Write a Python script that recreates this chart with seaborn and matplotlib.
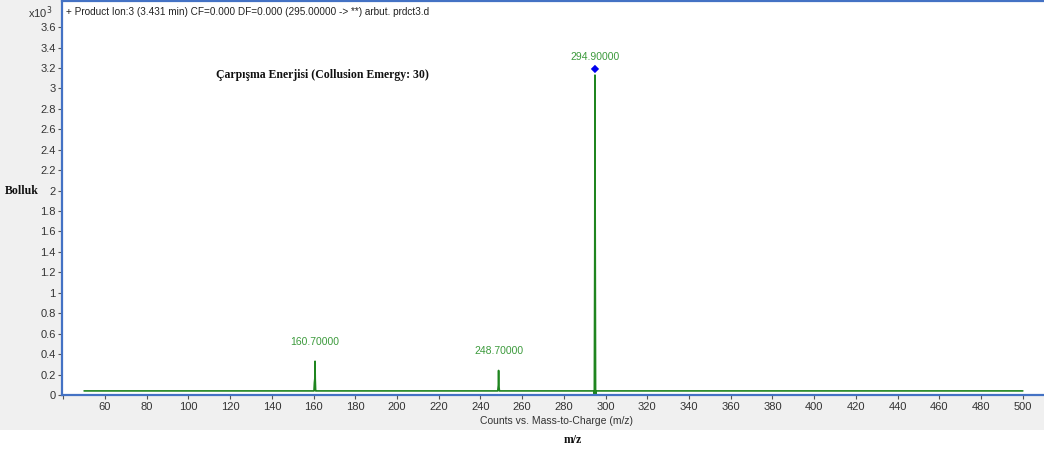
import matplotlib
matplotlib.use('Agg')
import matplotlib.pyplot as plt
from matplotlib.patches import Rectangle
import numpy as np
import pandas as pd
import seaborn as sns

# Spectrum profile (m/z, counts x10^3)
mz = [50.0, 160.2, 160.4, 160.6, 160.7, 160.8, 161.0, 161.3,
      248.3, 248.6, 248.7, 248.8, 249.1,
      294.3, 294.6, 294.8, 294.9, 295.0, 295.2, 295.5, 500.0]
counts = [0.04, 0.04, 0.12, 0.16, 0.33, 0.16, 0.04, 0.04,
          0.04, 0.10, 0.24, 0.10, 0.04,
          0.04, 0.00, 1.45, 3.13, 1.75, 0.00, 0.04, 0.04]

peak_mz = [160.7, 248.7, 294.9]
peak_top = [0.33, 0.24, 3.13]
peak_labels = ['160.70000', '248.70000', '294.90000']

x_ticks = list(range(60, 501, 20))
y_ticks = [round(0.2 * i, 1) for i in range(19)]

df = pd.DataFrame({'mz': mz, 'counts': counts})

sns.set_style('white')
plt.rcParams['font.family'] = ['Liberation Sans', 'DejaVu Sans']

fig = plt.figure(figsize=(10.44, 4.5), dpi=100, facecolor='white')
# grey panel behind the plot
fig.patches.append(Rectangle((0, 20 / 450), 1, 1, transform=fig.transFigure,
                             facecolor='#f0f0f0', edgecolor='none', zorder=-1))
ax = fig.add_axes([62 / 1044, 55 / 450, 990 / 1044, 394 / 450])
ax.set_facecolor('white')

sns.lineplot(data=df, x='mz', y='counts', ax=ax, estimator=None, sort=False,
             color='#1f851f', linewidth=1.2)
sns.scatterplot(x=[peak_mz[2]], y=[3.19], ax=ax, marker='D', color='#0000ee',
                s=18, edgecolor='none', zorder=5)

for x, y, lab in zip(peak_mz, peak_top, peak_labels):
    offset = 0.19 if y < 3 else 0.18
    ax.text(x, y + offset, lab, ha='center', va='center', fontsize=7.5,
            color='#3c9a3c')

ax.set_xlim(39.4, 514)
ax.set_ylim(0, 3.855)
ax.set_xticks([40] + x_ticks)
ax.set_xticklabels([''] + [str(t) for t in x_ticks])
ax.set_yticks(y_ticks)
ax.set_yticklabels([('%g' % t) for t in y_ticks])
ax.tick_params(axis='both', direction='out', length=3, width=0.8,
               color='#555555', labelsize=8, labelcolor='#333333', pad=1.5)
ax.tick_params(axis='x', pad=2)
ax.tick_params(axis='y', left=True)
ax.tick_params(axis='x', bottom=True)

for side in ['left', 'bottom', 'top']:
    ax.spines[side].set_color('#4472c4')
    ax.spines[side].set_linewidth(1.6)
ax.spines['right'].set_visible(False)

ax.set_xlabel('Counts vs. Mass-to-Charge (m/z)', fontsize=7.5, color='#333333',
              labelpad=3)
ax.set_ylabel('')

ax.text(0.004, 0.985, '+ Product Ion:3 (3.431 min) CF=0.000 DF=0.000 (295.00000 -> **) arbut. prdct3.d',
        transform=ax.transAxes, ha='left', va='top', fontsize=7.2, color='#222222')
fig.text(28 / 1044, 1 - 13 / 450, 'x10$^{3}$', ha='left', va='center', fontsize=8,
         color='#333333')

fig.text(322 / 1044, 1 - 75 / 450, 'Çarpışma Enerjisi (Collusion Emergy: 30)', ha='center',
         va='center', fontsize=8.5, fontweight='bold', family='Liberation Serif',
         color='#111111')
fig.text(5 / 1044, 1 - 191 / 450, 'Bolluk', ha='left', va='center', fontsize=8.5,
         fontweight='bold', family='Liberation Serif', color='#111111')
fig.text(573 / 1044, 1 - 440 / 450, 'm/z', ha='center', va='center', fontsize=8.5,
         fontweight='bold', family='Liberation Serif', color='#111111')

fig.savefig('out.png', dpi=100, facecolor='white')
